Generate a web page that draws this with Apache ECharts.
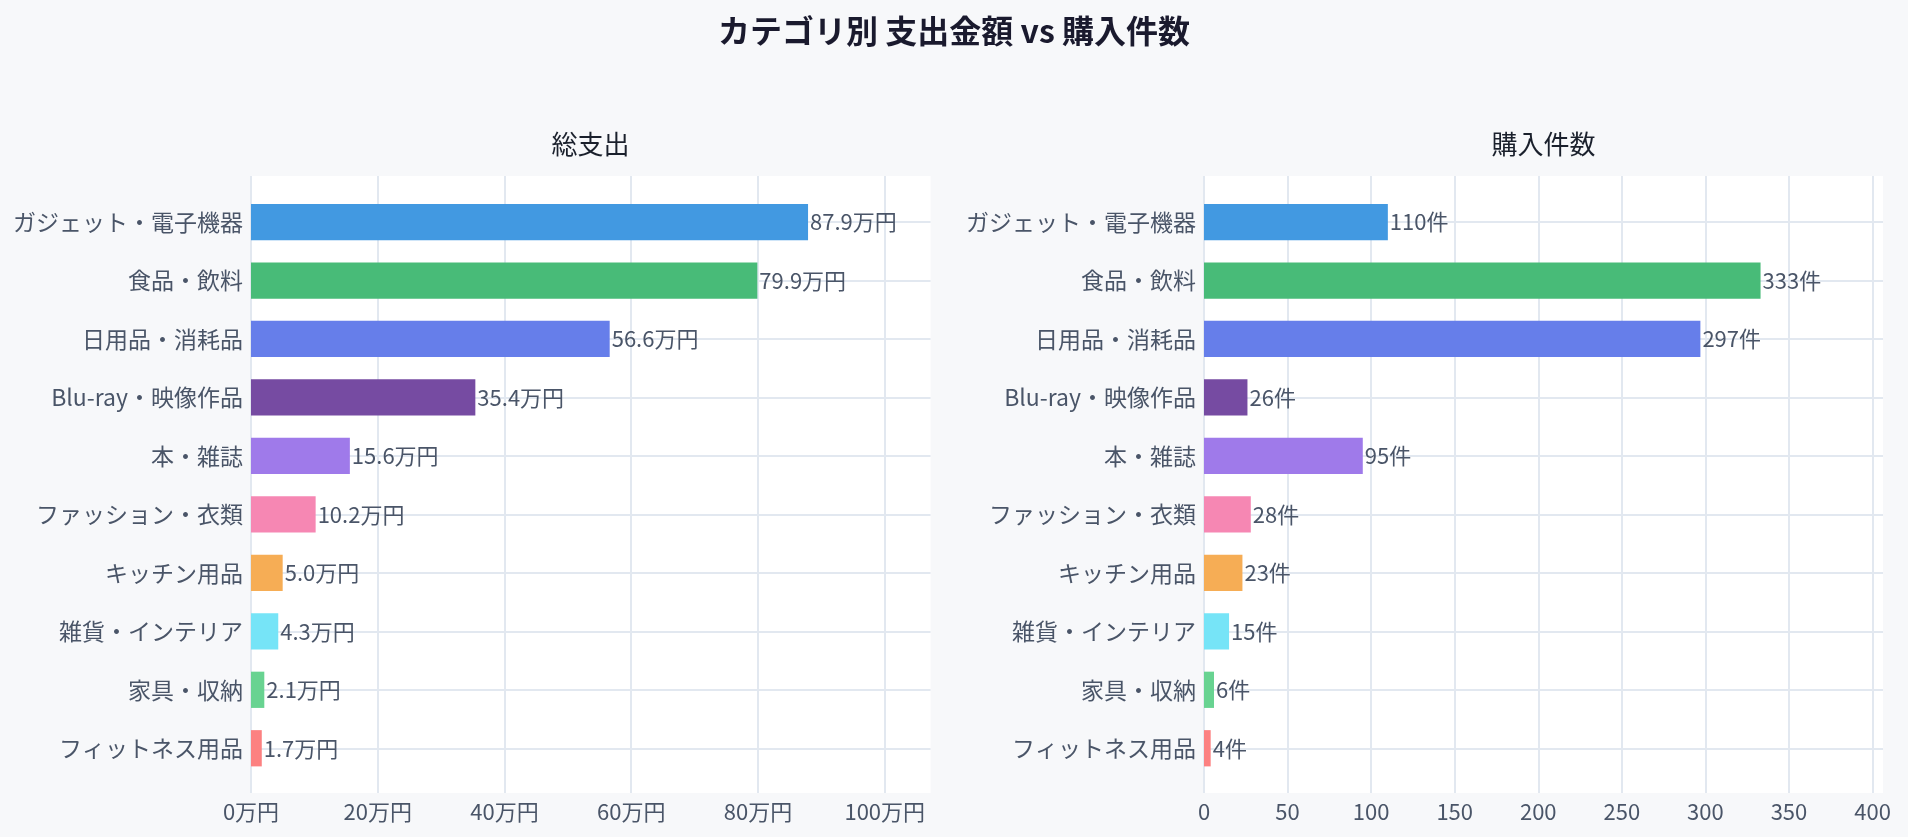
<!DOCTYPE html>
<html>
<head>
<meta charset="UTF-8">
<title>カテゴリ別 支出金額 vs 購入件数</title>
<script src="https://cdn.jsdelivr.net/npm/echarts@6/dist/echarts.min.js"></script>
<style>
    html, body { margin: 0; padding: 0; background: #f7f8fa; }
    #main { width: 1908px; height: 837px; }
</style>
</head>
<body>
<div id="main"></div>
<script type="text/javascript">
    // データ
    var categories = ['ガジェット・電子機器', '食品・飲料', '日用品・消耗品', 'Blu-ray・映像作品', '本・雑誌',
        'ファッション・衣類', 'キッチン用品', '雑貨・インテリア', '家具・収納', 'フィットネス用品'];
    var spendMan = [87.9, 79.9, 56.6, 35.4, 15.6, 10.2, 5.0, 4.3, 2.1, 1.7];   // 万円
    var counts = [110, 333, 297, 26, 95, 28, 23, 15, 6, 4];                     // 件
    var barColors = ['#4299e1', '#48bb78', '#667eea', '#764ba2', '#9f7aea',
        '#f687b3', '#f6ad55', '#76e4f7', '#68d391', '#fc8181'];

    var font = '"Noto Sans CJK JP", "Noto Sans", sans-serif';
    var labelColor = '#4a5568';
    var gridColor = '#e2e8f0';

    var spendMax = Math.max.apply(null, spendMan) * 1.22;
    var countMax = Math.max.apply(null, counts) * 1.22;

    function coloured(values) {
        return values.map(function (v, i) {
            return { value: v, itemStyle: { color: barColors[i] } };
        });
    }

    function bgXAxis(grid, max, interval, fmt) {
        return {
            type: 'value', gridIndex: grid, min: 0, max: max, interval: interval,
            axisLine: { show: false }, axisTick: { show: false },
            splitLine: { show: true, showMaxLine: false, lineStyle: { color: gridColor, width: 2 } },
            axisLabel: { formatter: fmt, showMaxLabel: false, margin: 8,
                color: labelColor, fontSize: 22, fontFamily: font }
        };
    }

    function catYAxis(grid) {
        return {
            type: 'category', gridIndex: grid, data: categories, inverse: true,
            axisLine: { show: false }, axisTick: { show: false },
            splitLine: { show: true, alignWithLabel: true, lineStyle: { color: gridColor, width: 2 } },
            axisLabel: { margin: 8, color: labelColor, fontSize: 23, fontFamily: font }
        };
    }

    var myChart = echarts.init(document.getElementById('main'));

    var option = {
        backgroundColor: '#f7f8fa',
        animation: false,
        title: [
            { text: 'カテゴリ別 支出金額 vs 購入件数', left: 'center', top: 15, padding: 0,
              textStyle: { fontSize: 32, fontWeight: 'bold', color: '#1a1a2e', fontFamily: font } },
            { text: '総支出', left: 590.5, textAlign: 'center', top: 131, padding: 0,
              textStyle: { fontSize: 26, fontWeight: 'normal', color: '#1a202c', fontFamily: font } },
            { text: '購入件数', left: 1543.5, textAlign: 'center', top: 131, padding: 0,
              textStyle: { fontSize: 26, fontWeight: 'normal', color: '#1a202c', fontFamily: font } }
        ],
        grid: [
            { left: 251, right: 977.4, top: 176, bottom: 44, show: true, backgroundColor: '#ffffff', borderWidth: 0 },
            { left: 251, right: 977.4, top: 192.8, bottom: 59.5 },
            { left: 1204, right: 25, top: 176, bottom: 44, show: true, backgroundColor: '#ffffff', borderWidth: 0 },
            { left: 1204, right: 25, top: 192.8, bottom: 59.5 }
        ],
        xAxis: [
            bgXAxis(0, spendMax, 20, '{value}万円'),
            { type: 'value', gridIndex: 1, min: 0, max: spendMax, show: false },
            bgXAxis(2, countMax, 50, '{value}'),
            { type: 'value', gridIndex: 3, min: 0, max: countMax, show: false }
        ],
        yAxis: [
            { type: 'value', gridIndex: 0, min: 0, max: 1, show: false },
            catYAxis(1),
            { type: 'value', gridIndex: 2, min: 0, max: 1, show: false },
            catYAxis(3)
        ],
        series: [
            {
                name: '総支出', type: 'bar', xAxisIndex: 1, yAxisIndex: 1,
                barCategoryGap: '38%',
                data: coloured(spendMan),
                label: { show: true, position: 'right', distance: 2, color: labelColor,
                    fontSize: 22, fontFamily: font,
                    formatter: function (p) { return p.value.toFixed(1) + '万円'; } }
            },
            {
                name: '購入件数', type: 'bar', xAxisIndex: 3, yAxisIndex: 3,
                barCategoryGap: '38%',
                data: coloured(counts),
                label: { show: true, position: 'right', distance: 2, color: labelColor,
                    fontSize: 22, fontFamily: font,
                    formatter: function (p) { return p.value + '件'; } }
            }
        ]
    };

    myChart.setOption(option);
</script>
</body>
</html>
